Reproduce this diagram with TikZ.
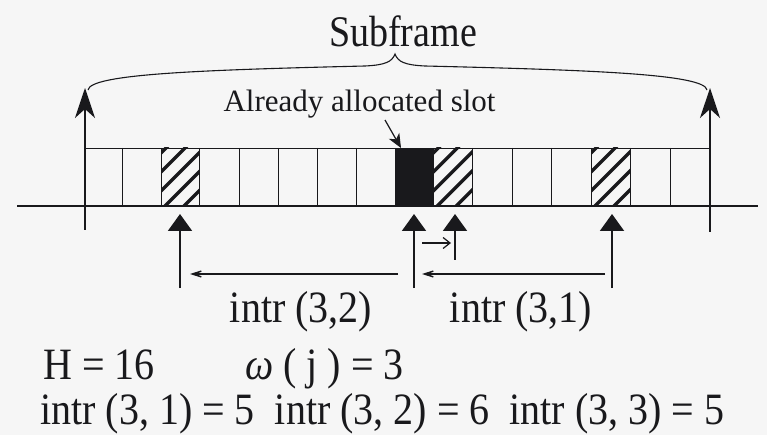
\documentclass[tikz,border=0pt]{standalone}
\usepackage{fontspec}
\usepackage{graphicx}
\setmainfont{Liberation Serif}
\usetikzlibrary{arrows.meta}
\definecolor{paper}{RGB}{246,246,246}
\definecolor{ink}{RGB}{25,25,28}
\newcommand{\tallt}[1]{\scalebox{1}[1.12]{#1}}
\begin{document}
\begin{tikzpicture}[x=1pt,y=-1pt,
  thinline/.style={line width=0.9pt,ink},
  bigarrow/.style={line width=1.4pt,ink,-{Stealth[length=30pt,width=20pt,inset=9pt]}},
  uparrow/.style={line width=2pt,ink,-{Triangle[length=17pt,width=24pt]}},
  backarrow/.style={line width=1.3pt,ink,-{Stealth[length=25pt,width=16pt,inset=19pt]}},
  shiftarrow/.style={line width=1.2pt,ink,-{Straight Barb[length=7pt,width=11pt]}},
  pointer/.style={line width=1.2pt,ink,-{Stealth[length=14pt,width=12pt,inset=4pt]}},
  hatchline/.style={line width=3.4pt,ink},
  lbl/.style={inner sep=0pt,anchor=base,text=ink,font=\fontsize{40}{40}\selectfont},
  lblw/.style={inner sep=0pt,anchor=base west,text=ink,font=\fontsize{40}{40}\selectfont},
]
\useasboundingbox (0,0) rectangle (767,435);
\fill[paper] (0,0) rectangle (767,435);
% allocated slot (black)
\fill[ink] (395,148) rectangle (433.3,206);
% hatched slots
\foreach \a/\b in {161/199.3,433.3/472.7,591/630}{
  \begin{scope}
    \clip (\a,148) rectangle (\b,206);
    \foreach \k in {-4,...,2}{
      \draw[hatchline] (\a+\k*19,210) -- ++(66,-66);
    }
  \end{scope}
}
% slot bar
\draw[thinline] (85,148) -- (710,148);
\foreach \x in {122.7,161,199.3,239.3,278.3,317.7,356.7,395,433.3,472.7,512.7,551.7,591,630,670}{
  \draw[thinline] (\x,148) -- (\x,206);
}
% time axis
\coordinate (bl) at (17,206);
\coordinate (br) at (758,206);
\draw[line width=2.6pt,ink] (bl) -- (br);
% subframe limits
\coordinate (la0) at (85,230); \coordinate (la1) at (85,88);
\coordinate (ra0) at (710,232); \coordinate (ra1) at (710,88);
\draw[bigarrow] (la0) -- (la1);
\draw[bigarrow] (ra0) -- (ra1);
% brace
\draw[line width=1.1pt,ink] (88,90) .. controls (90,74) and (200,70) .. (365,66)
  .. controls (385,65) and (392,62) .. (395,54)
  .. controls (398,62) and (405,65) .. (425,66)
  .. controls (590,70) and (705,74) .. (707,90);
\node[inner sep=0pt,anchor=base,text=ink,font=\fontsize{38}{38}\selectfont] (sub) at (403,47) {\scalebox{1}[1.15]{Subframe}};
% already allocated slot
\node[inner sep=0pt,anchor=base,text=ink,font=\fontsize{31}{31}\selectfont] (already) at (359.5,112) {Already allocated slot};
\coordinate (p0) at (385,120); \coordinate (p1) at (401,148);
\draw[pointer] (p0) -- (p1);
% upward arrows below slots
\coordinate (u1b) at (180,288); \coordinate (u1t) at (180,214);
\coordinate (u2b) at (414,288); \coordinate (u2t) at (414,214);
\coordinate (u3b) at (455,260); \coordinate (u3t) at (455,214);
\coordinate (u4b) at (612,288); \coordinate (u4t) at (612,214);
\draw[uparrow] (u1b) -- (u1t);
\draw[uparrow] (u2b) -- (u2t);
\draw[uparrow] (u3b) -- (u3t);
\draw[uparrow] (u4b) -- (u4t);
% shift arrow
\coordinate (s0) at (422,243); \coordinate (s1) at (451,243);
\draw[shiftarrow] (s0) -- (s1);
% interval arrows
\coordinate (h1a) at (398,274); \coordinate (h1b) at (190,274);
\coordinate (h2a) at (605,274); \coordinate (h2b) at (422,274);
\draw[backarrow] (h1a) -- (h1b);
\draw[backarrow] (h2a) -- (h2b);
\node[lbl] (i32) at (301,322) {\tallt{intr (3,2)}};
\node[lbl] (i31) at (521,322) {\tallt{intr (3,1)}};
% parameters
\node[lblw] (H) at (43,379) {\tallt{H = 16}};
\node[lblw] (w) at (245,379) {\tallt{{\itshape ω} ( j ) = 3}};
\node[lblw] (vals) at (40,424) {\tallt{intr (3, 1) = 5\enspace intr (3, 2) = 6\enspace intr (3, 3) = 5}};
\end{tikzpicture}
\end{document}
